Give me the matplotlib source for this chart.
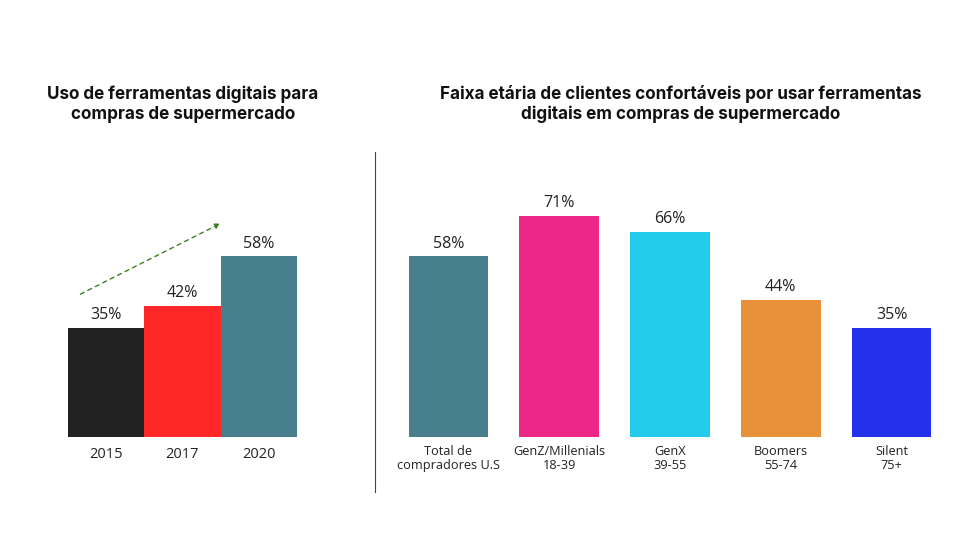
import matplotlib
matplotlib.use("Agg")
import matplotlib.pyplot as plt
from matplotlib.lines import Line2D

plt.rcParams['font.family'] = ['Open Sans', 'DejaVu Sans']

# data
years = ['2015', '2017', '2020']
usage = [35, 42, 58]
usage_colors = ['#222222', '#FF2828', '#47808C']

groups = ['Total de\ncompradores U.S', 'GenZ/Millenials\n18-39', 'GenX\n39-55', 'Boomers\n55-74', 'Silent\n75+']
comfort = [58, 71, 66, 44, 35]
comfort_colors = ['#47808C', '#ED2788', '#22CCEA', '#E8913A', '#2430EC']

W, H = 960, 540
fig = plt.figure(figsize=(9.6, 5.4), dpi=100)

def ax_rect(x0, x1, ytop, ybot):
    return [x0 / W, 1 - ybot / H, (x1 - x0) / W, (ybot - ytop) / H]

YMAX = 89

# left panel
axl = fig.add_axes(ax_rect(68, 297, 160, 437))
xl = range(len(years))
axl.bar(xl, usage, width=1.0, color=usage_colors)
for i, v in enumerate(usage):
    axl.text(i, v + 1.6, f'{v}%', ha='center', va='bottom', fontsize=11.5, color='#222222')
axl.set_xlim(-0.5, len(years) - 0.5)
axl.set_ylim(0, YMAX)
axl.set_xticks(list(xl))
axl.set_xticklabels(years, fontsize=10.5, color='#222222')
axl.tick_params(axis='x', length=0, pad=7)
axl.set_yticks([])
for s in axl.spines.values():
    s.set_visible(False)
axl.annotate('', xy=(1.53, 69), xytext=(-0.37, 45.5),
             arrowprops=dict(arrowstyle='-|>', color='#3E7D22', lw=1.0,
                             linestyle=(0, (3, 3)), mutation_scale=8))

# right panel
axr = fig.add_axes(ax_rect(393, 947, 160, 437))
xr = range(len(groups))
axr.bar(xr, comfort, width=0.72, color=comfort_colors)
for i, v in enumerate(comfort):
    axr.text(i, v + 1.6, f'{v}%', ha='center', va='bottom', fontsize=11.5, color='#222222')
axr.set_xlim(-0.5, len(groups) - 0.5)
axr.set_ylim(0, YMAX)
axr.set_xticks(list(xr))
axr.set_xticklabels(groups, fontsize=9.2, color='#222222', linespacing=1.1)
axr.tick_params(axis='x', length=0, pad=6)
axr.set_yticks([])
for s in axr.spines.values():
    s.set_visible(False)

# titles
title_font = ['Inter', 'DejaVu Sans']
fig.text(183 / W, 1 - 104 / H, 'Uso de ferramentas digitais para\ncompras de supermercado',
         ha='center', va='center', fontsize=12.3, fontweight='bold', color='#111111',
         linespacing=1.2, family=title_font)
fig.text(681 / W, 1 - 104 / H, 'Faixa etária de clientes confortáveis por usar ferramentas\ndigitais em compras de supermercado',
         ha='center', va='center', fontsize=12.3, fontweight='bold', color='#111111',
         linespacing=1.2, family=title_font)

# separator
fig.add_artist(Line2D([375 / W, 375 / W], [1 - 152 / H, 1 - 492 / H], color='#444444', lw=0.8))

fig.savefig('out.png', dpi=100, facecolor='white')
